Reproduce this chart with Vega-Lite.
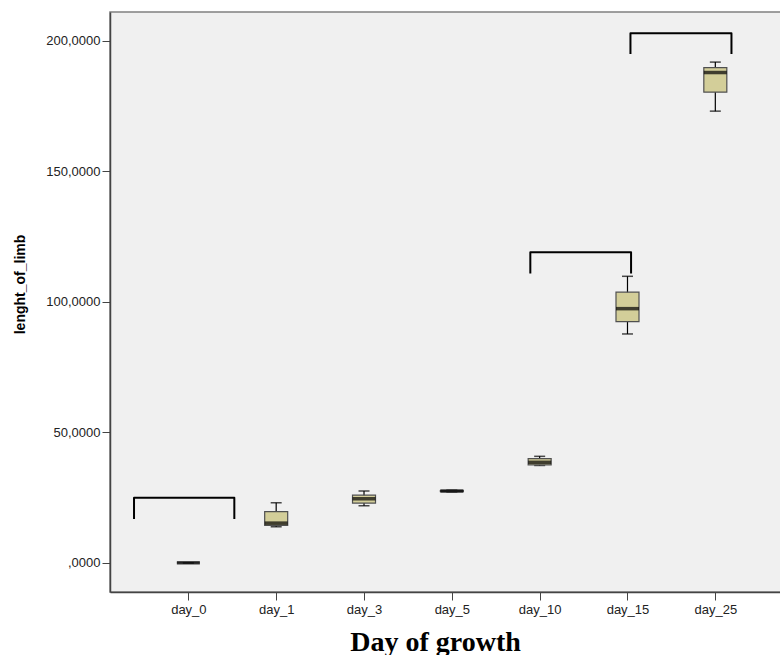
{
  "$schema": "https://vega.github.io/schema/vega-lite/v6.json",
  "width": 671,
  "height": 580,
  "autosize": {"type": "none"},
  "padding": {"left": 110, "top": 12, "right": 0, "bottom": 63},
  "background": "white",
  "config": {
    "view": {"fill": "#f0f0f0", "stroke": "#808080", "strokeWidth": 1.5},
    "font": "Liberation Sans"
  },
  "datasets": {
    "boxes": [
      {"day": "day_0", "min": 0, "q1": 0, "median": 0, "q3": 0, "max": 0},
      {"day": "day_1", "min": 13.8, "q1": 14.3, "median": 15.2, "q3": 19.6, "max": 23.0},
      {"day": "day_3", "min": 21.9, "q1": 22.9, "median": 24.5, "q3": 25.9, "max": 27.5},
      {"day": "day_5", "min": 27.2, "q1": 27.3, "median": 27.5, "q3": 27.7, "max": 27.8},
      {"day": "day_10", "min": 37.3, "q1": 37.5, "median": 38.5, "q3": 39.9, "max": 40.8},
      {"day": "day_15", "min": 87.7, "q1": 92.4, "median": 97.4, "q3": 103.7, "max": 109.8},
      {"day": "day_25", "min": 173.1, "q1": 180.4, "median": 187.9, "q3": 189.8, "max": 191.9}
    ],
    "brackets": [
      {"bracket": "A", "k": 1, "pos": -0.618, "val": 16.8},
      {"bracket": "A", "k": 2, "pos": -0.618, "val": 24.95},
      {"bracket": "A", "k": 3, "pos": 0.524, "val": 24.95},
      {"bracket": "A", "k": 4, "pos": 0.524, "val": 16.8},
      {"bracket": "B", "k": 1, "pos": 3.894, "val": 110.9},
      {"bracket": "B", "k": 2, "pos": 3.894, "val": 119.0},
      {"bracket": "B", "k": 3, "pos": 5.041, "val": 119.0},
      {"bracket": "B", "k": 4, "pos": 5.041, "val": 110.9},
      {"bracket": "C", "k": 1, "pos": 5.034, "val": 195.0},
      {"bracket": "C", "k": 2, "pos": 5.034, "val": 203.0},
      {"bracket": "C", "k": 3, "pos": 6.184, "val": 203.0},
      {"bracket": "C", "k": 4, "pos": 6.184, "val": 195.0}
    ]
  },
  "encoding": {
    "y": {
      "type": "quantitative",
      "scale": {"domain": [-11.2, 211.1], "nice": false, "zero": false},
      "axis": {
        "title": "lenght_of_limb",
        "values": [0, 50, 100, 150, 200],
        "grid": false,
        "labelExpr": "datum.value == 0 ? ',0000' : replace(format(datum.value, '.4f'), '.', ',')",
        "labelFont": "Liberation Sans",
        "labelFontSize": 13,
        "labelColor": "#222222",
        "labelPadding": 2,
        "tickSize": 8,
        "tickColor": "#444444",
        "domainColor": "#444444",
        "domainWidth": 1.5,
        "titleFont": "Liberation Sans",
        "titleFontSize": 14,
        "titleFontWeight": "bold",
        "titleColor": "#000000",
        "titleAngle": -90,
        "titleX": -86,
        "titleY": 272,
        "titleAlign": "center",
        "titleBaseline": "alphabetic"
      }
    }
  },
  "layer": [
    {
      "data": {"name": "boxes"},
      "encoding": {
        "x": {
          "field": "day",
          "type": "nominal",
          "sort": null,
          "scale": {"type": "point", "padding": 0.82, "align": 0.544},
          "axis": {
            "title": "Day of growth",
            "labelAngle": 0,
            "labelFont": "Liberation Sans",
            "labelFontSize": 13,
            "labelColor": "#222222",
            "labelPadding": 3,
            "tickSize": 8,
            "tickColor": "#444444",
            "domainColor": "#444444",
            "domainWidth": 1.5,
            "titleFont": "Liberation Serif",
            "titleFontSize": 28,
            "titleFontWeight": "bold",
            "titleColor": "#000000",
            "titleX": 325,
            "titleY": 58,
            "titleAlign": "center",
            "titleBaseline": "alphabetic"
          }
        }
      },
      "layer": [
        {
          "mark": {"type": "rule", "color": "#000000", "strokeWidth": 1.2},
          "encoding": {"y": {"field": "min"}, "y2": {"field": "max"}}
        },
        {
          "mark": {"type": "tick", "color": "#000000", "size": 11, "thickness": 1.5},
          "encoding": {"y": {"field": "min"}}
        },
        {
          "mark": {"type": "tick", "color": "#000000", "size": 11, "thickness": 1.5},
          "encoding": {"y": {"field": "max"}}
        },
        {
          "mark": {"type": "bar", "size": 23, "fill": "#d3ce99", "stroke": "#505050", "strokeWidth": 1.2},
          "encoding": {"y": {"field": "q1"}, "y2": {"field": "q3"}}
        },
        {
          "mark": {"type": "tick", "color": "#000000", "size": 23, "thickness": 3.5},
          "encoding": {"y": {"field": "median"}}
        }
      ]
    },
    {
      "data": {"name": "brackets"},
      "mark": {"type": "line", "color": "#000000", "strokeWidth": 2, "strokeJoin": "round", "strokeCap": "butt"},
      "encoding": {
        "x": {
          "field": "pos",
          "type": "quantitative",
          "scale": {"domain": [-0.8915, 6.748], "nice": false, "zero": false},
          "axis": null
        },
        "y": {"field": "val", "type": "quantitative"},
        "detail": {"field": "bracket"},
        "order": {"field": "k"}
      }
    }
  ],
  "resolve": {"scale": {"x": "independent"}}
}
